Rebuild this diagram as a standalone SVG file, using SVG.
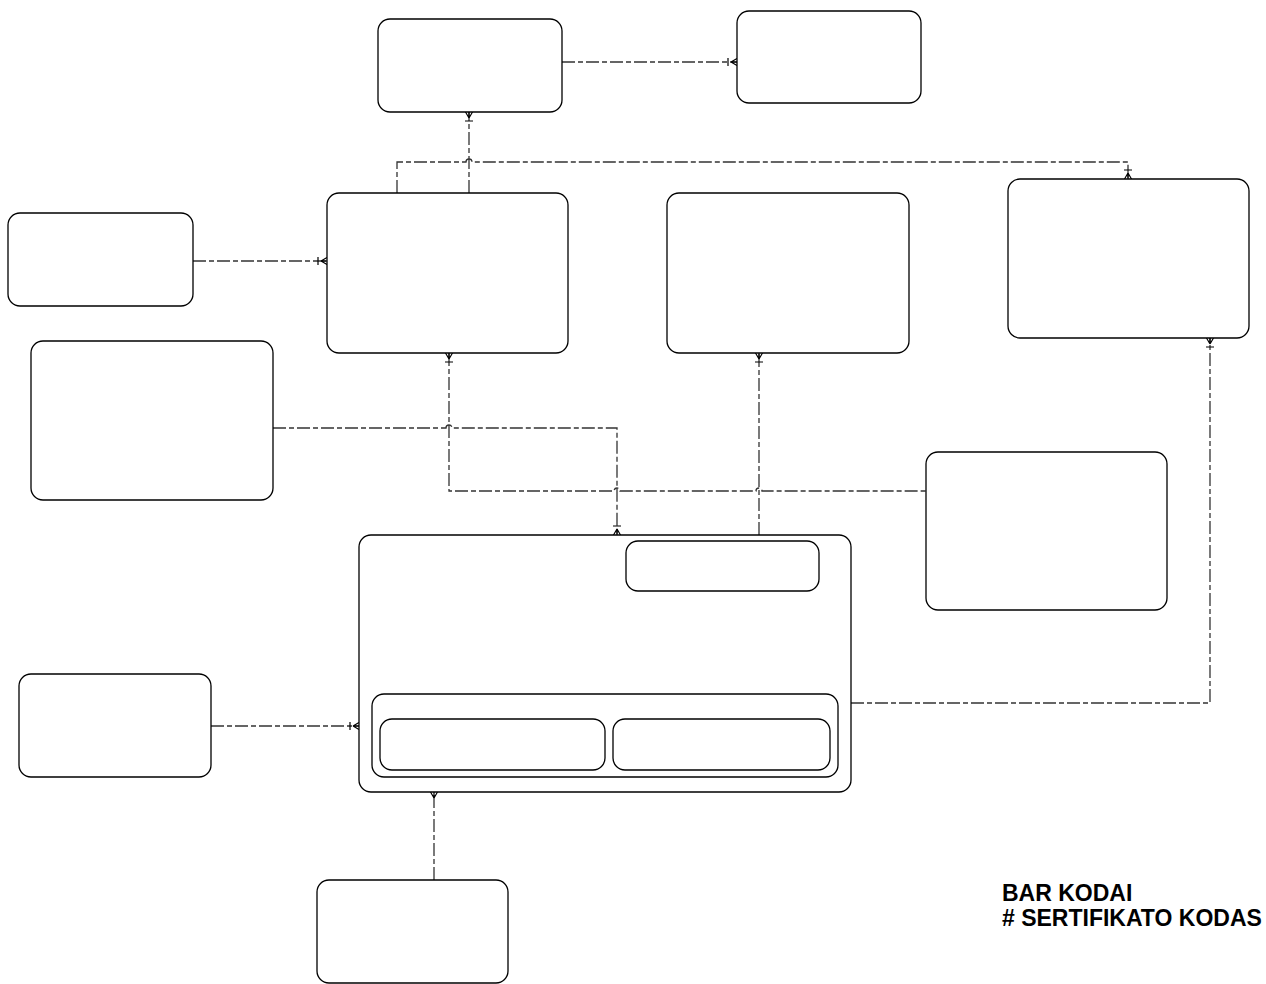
<svg xmlns="http://www.w3.org/2000/svg" width="1266" height="984" viewBox="0 0 1266 984">
<style>
.box{fill:#fff;stroke:#000;stroke-width:1.3}
.con{fill:none;stroke:#333;stroke-width:1.3;stroke-dasharray:13 3 5 3}
.mk{fill:none;stroke:#000;stroke-width:1.2}
.lbl{font-family:"Liberation Sans",Arial,sans-serif;font-weight:bold;font-size:23px;fill:#000}
</style>
<defs>
<marker id="cb" markerUnits="userSpaceOnUse" viewBox="-12 -6 14 12" refX="0" refY="0" markerWidth="14" markerHeight="12" orient="auto-start-reverse" overflow="visible">
<path class="mk" d="M-6,0 L0,-3.5 M-6,0 L0,0 M-6,0 L0,3.5 M-9,-4 L-9,4"/>
</marker>
<marker id="c" markerUnits="userSpaceOnUse" viewBox="-12 -6 14 12" refX="0" refY="0" markerWidth="14" markerHeight="12" orient="auto-start-reverse" overflow="visible">
<path class="mk" d="M-6,0 L0,-3.5 M-6,0 L0,0 M-6,0 L0,3.5"/>
</marker>
</defs>
<rect width="1266" height="984" fill="#fff"/>
<g id="connectors">
<path class="con" d="M562,62 H737" marker-end="url(#cb)"/>
<path class="con" d="M469,193 V112" marker-end="url(#cb)"/>
<path class="con" d="M397,193 V162 H466 A3,3 0 0 1 472,162 H1128 V179" marker-end="url(#cb)"/>
<path class="con" d="M193,261 H327" marker-end="url(#cb)"/>
<path class="con" d="M273,428 H446 A3,3 0 0 1 452,428 H617 V535" marker-end="url(#cb)"/>
<path class="con" d="M449,353 V491 H614 A3,3 0 0 1 620,491 H756 A3,3 0 0 1 762,491 H926" marker-start="url(#cb)"/>
<path class="con" d="M759,535 V353" marker-end="url(#cb)"/>
<path class="con" d="M851,703 H1210 V338" marker-end="url(#cb)"/>
<path class="con" d="M211,726 H359" marker-end="url(#cb)"/>
<path class="con" d="M434,880 V792" marker-end="url(#c)"/>
</g>
<g id="nodeA"><rect class="box" x="378" y="19" width="184" height="93" rx="12"/></g>
<g id="nodeB"><rect class="box" x="737" y="11" width="184" height="92" rx="12"/></g>
<g id="nodeC"><rect class="box" x="8" y="213" width="185" height="93" rx="12"/></g>
<g id="nodeD"><rect class="box" x="327" y="193" width="241" height="160" rx="12"/></g>
<g id="nodeE"><rect class="box" x="667" y="193" width="242" height="160" rx="12"/></g>
<g id="nodeF"><rect class="box" x="1008" y="179" width="241" height="159" rx="12"/></g>
<g id="nodeG"><rect class="box" x="31" y="341" width="242" height="159" rx="12"/></g>
<g id="nodeH"><rect class="box" x="926" y="452" width="241" height="158" rx="12"/></g>
<g id="nodeI">
<rect class="box" x="359" y="535" width="492" height="257" rx="12"/>
<rect class="box" x="626" y="541" width="193" height="50" rx="12"/>
<rect class="box" x="372" y="694" width="466" height="83" rx="12"/>
<rect class="box" x="380" y="719" width="225" height="51" rx="12"/>
<rect class="box" x="613" y="719" width="217" height="51" rx="12"/>
</g>
<g id="nodeL"><rect class="box" x="19" y="674" width="192" height="103" rx="12"/></g>
<g id="nodeM"><rect class="box" x="317" y="880" width="191" height="103" rx="12"/></g>
<g id="legend">
<text class="lbl" x="1002" y="901">BAR KODAI</text>
<text class="lbl" x="1002" y="926"># SERTIFIKATO KODAS</text>
</g>
</svg>
